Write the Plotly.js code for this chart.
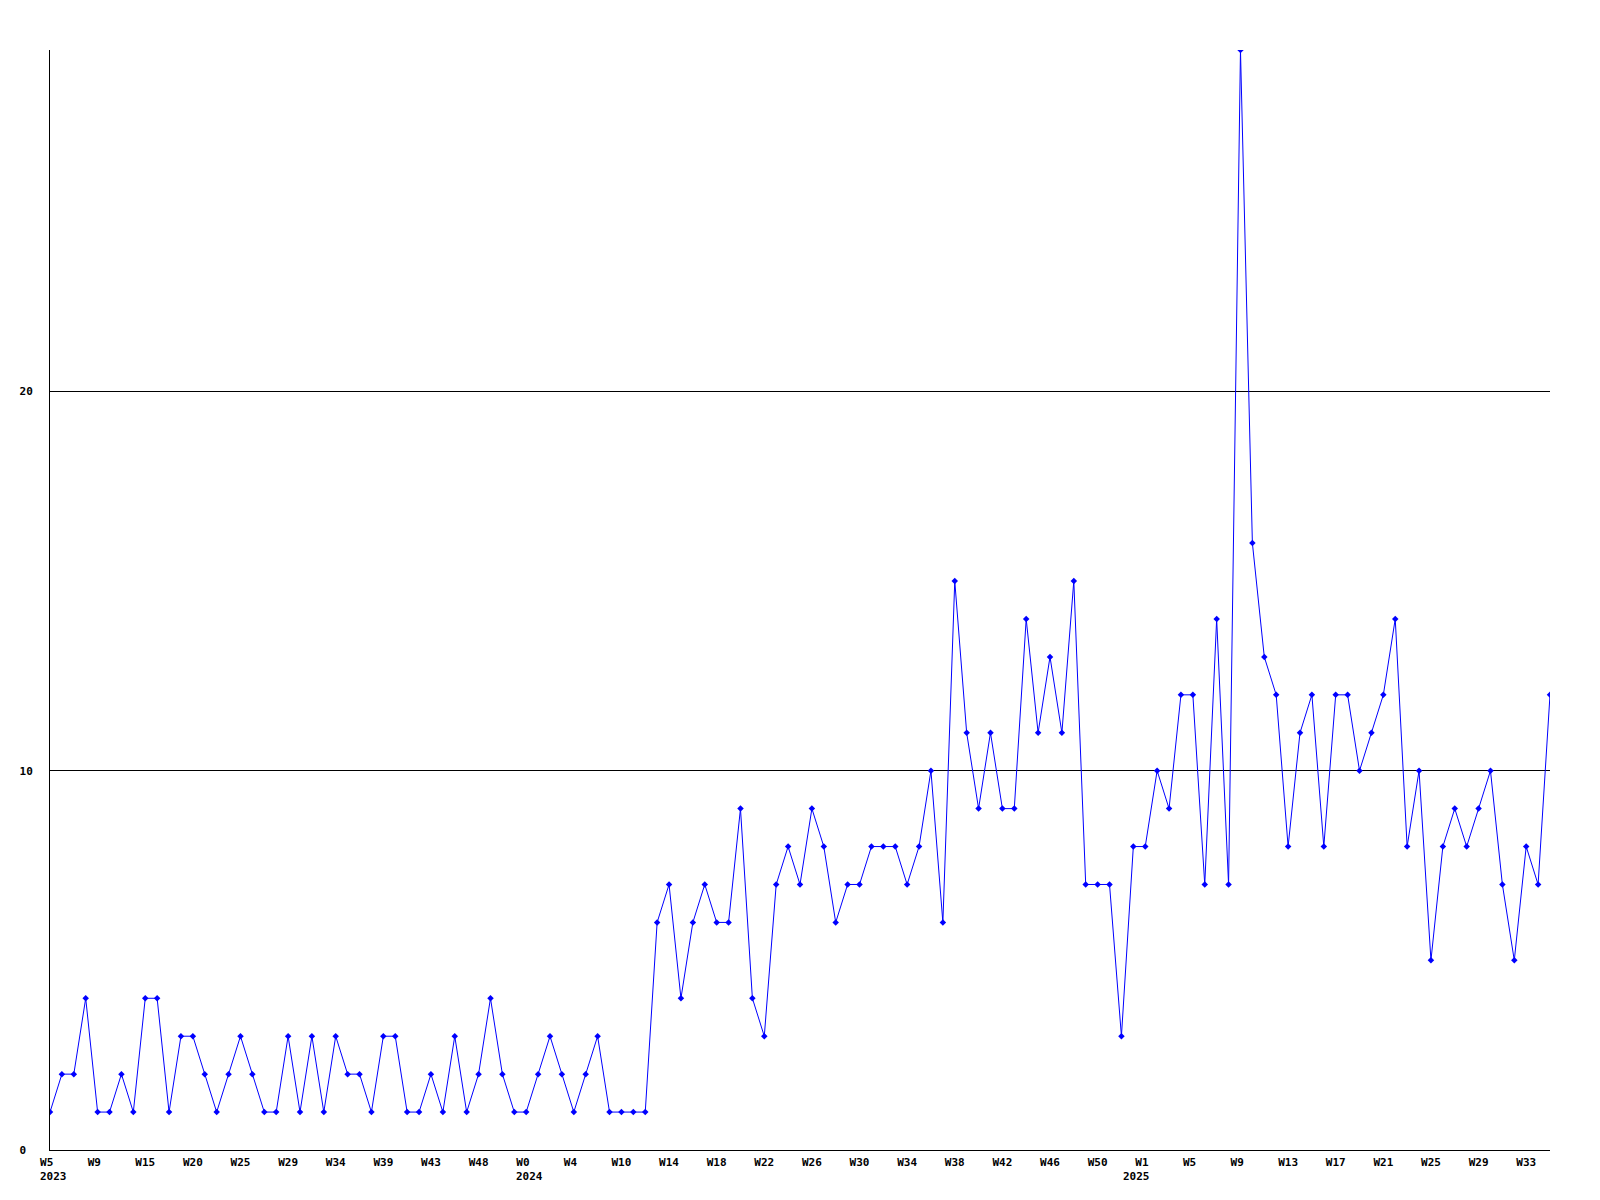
<!DOCTYPE html>
<html>
<head>
<meta charset="utf-8">
<script src="https://cdn.plot.ly/plotly-3.0.1.min.js"></script>
<style>html,body{margin:0;padding:0;background:#fff}</style>
</head>
<body>
<div id="chart" style="width:1600px;height:1200px"></div>
<script>
// Weekly counts, in order of the plotted samples
const values = [
  1,2,2,4,1,1,2,1,4,4,
  1,3,3,2,1,2,3,2,1,1,
  3,1,3,1,3,2,2,1,3,3,
  1,1,2,1,3,1,2,4,2,1,
  1,2,3,2,1,2,3,1,1,1,
  1,6,7,4,6,7,6,6,9,4,
  3,7,8,7,9,8,6,7,7,8,
  8,8,7,8,10,6,15,11,9,11,
  9,9,14,11,13,11,15,7,7,7,
  3,8,8,10,9,12,12,7,14,7,
  29,16,13,12,8,11,12,8,12,12,
  10,11,12,14,8,10,5,8,9,8,
  9,10,7,5,8,7,12
];
// Week tick labels, one every 4 samples
const weekLabels = ["W5","W9","W15","W20","W25","W29","W34","W39","W43","W48",
  "W0","W4","W10","W14","W18","W22","W26","W30","W34","W38","W42","W46","W50",
  "W1","W5","W9","W13","W17","W21","W25","W29","W33"];
const tickStep = 4;
// Year labels and the sample each one starts at
const yearLabels = ["2023","2024","2025"];
const yearSample = [0,40,91];
const yTicks = [0,10,20];

const xs = values.map((_, i) => i);
const tickvals = weekLabels.map((_, k) => k * tickStep);
const ticktext = weekLabels.map(t => t.length < 3 ? t + "\u00a0" : t);

const font = {family: "DejaVu Sans Mono, Liberation Mono, monospace", size: 11, color: "#000"};

const trace = {
  x: xs, y: values, type: "scatter", mode: "lines+markers",
  line: {color: "#0000ff", width: 1},
  marker: {color: "#0000ff", size: 5, symbol: "diamond"},
  hoverinfo: "none"
};

const annotations = yearLabels.map((t, k) => ({
  text: "<b>" + t + "</b>", x: yearSample[k], xref: "x",
  y: 0, yref: "paper", xanchor: "left", yanchor: "top",
  xshift: -12, yshift: -18, showarrow: false, font: font
}));

const layout = {
  width: 1600, height: 1200,
  margin: {l: 50, r: 50, t: 50, b: 50},
  paper_bgcolor: "#fff", plot_bgcolor: "#fff",
  showlegend: false,
  font: font,
  xaxis: {
    range: [0, values.length - 1], tickmode: "array",
    tickvals: tickvals, ticktext: ticktext.map(t => "<b>" + t + "</b>"),
    showgrid: false, zeroline: false, showline: true, linecolor: "#000", linewidth: 1,
    ticks: "", ticklabelstandoff: 2, tickfont: font, fixedrange: true
  },
  yaxis: {
    range: [0, 29], tickmode: "array", tickvals: yTicks,
    ticktext: yTicks.map(v => "<b>" + (String(v).length < 2 ? v + "\u00a0" : v) + "</b>"),
    showgrid: true, gridcolor: "#000", gridwidth: 1,
    zeroline: false, showline: true, linecolor: "#000", linewidth: 1,
    ticks: "", ticklabelstandoff: 14, tickfont: font, fixedrange: true
  },
  annotations: annotations
};

Plotly.newPlot("chart", [trace], layout, {staticPlot: true, displayModeBar: false});
</script>
</body>
</html>
